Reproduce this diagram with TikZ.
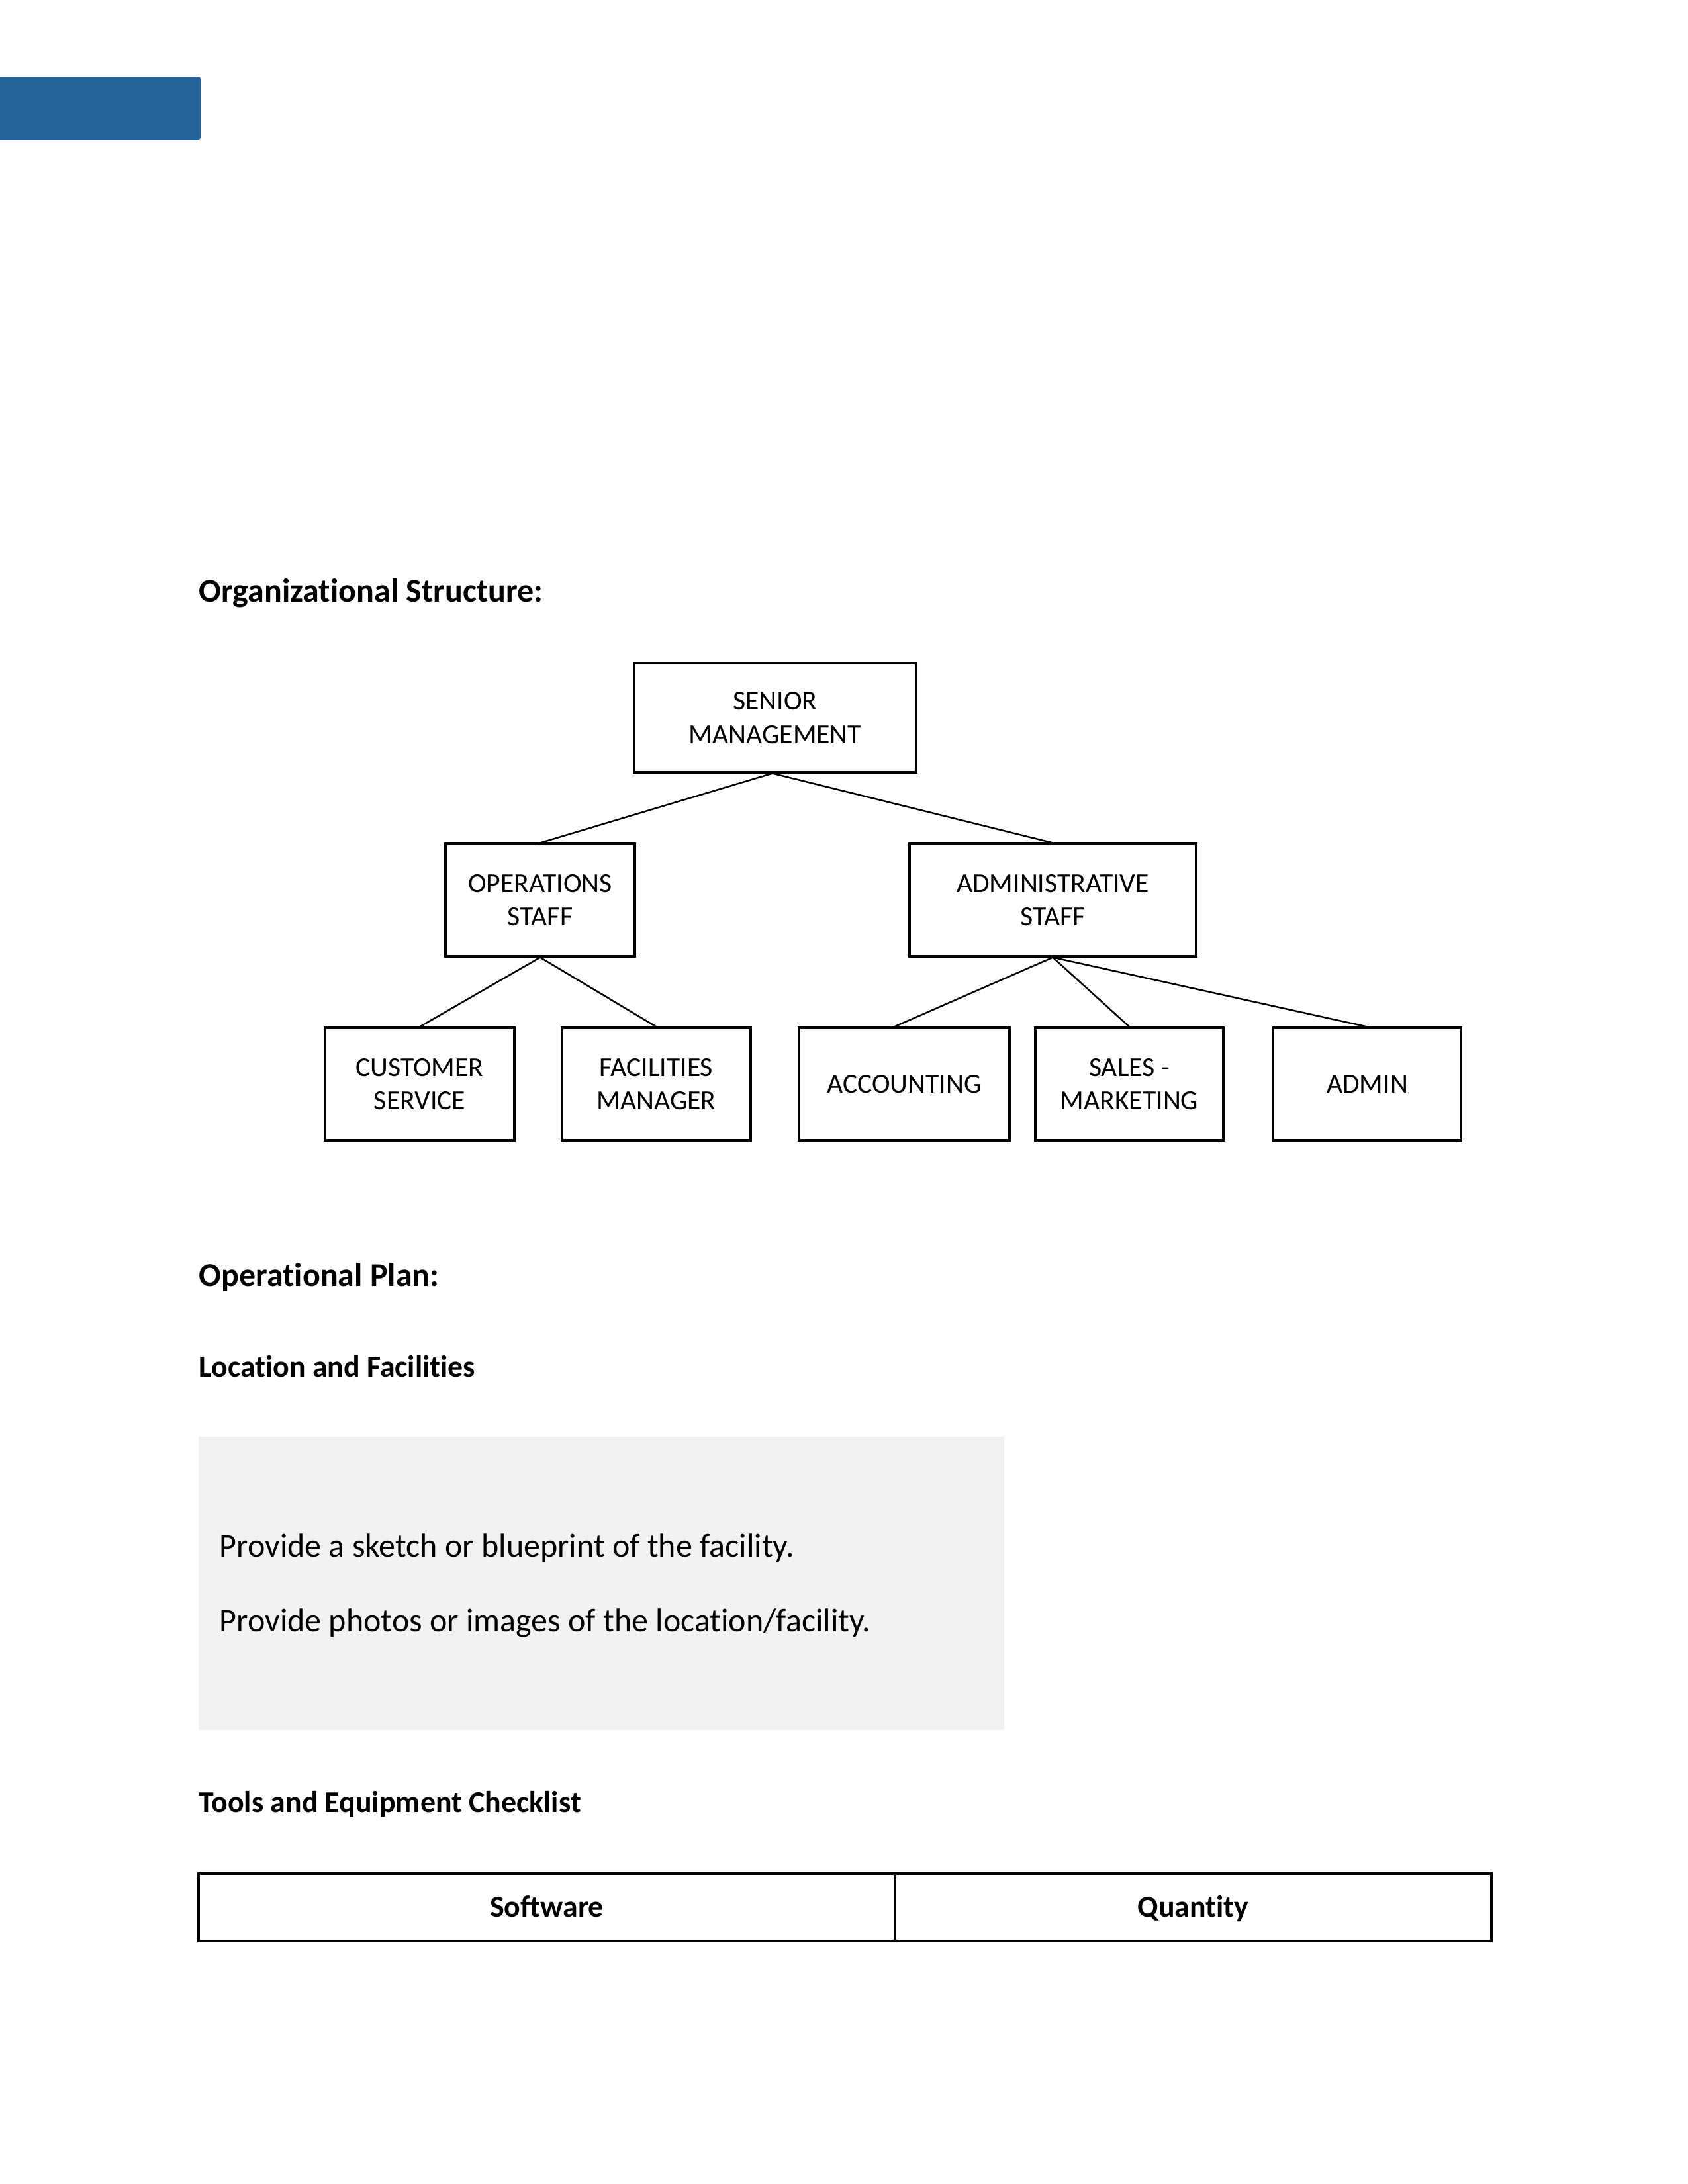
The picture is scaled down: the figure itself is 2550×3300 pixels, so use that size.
\documentclass[tikz,border=0pt]{standalone}
\usepackage{fontspec}
\setmainfont[Ligatures=NoCommon]{Carlito}
\usetikzlibrary{calc}
\definecolor{hdrblue}{RGB}{37,97,153}
\definecolor{panelgrey}{RGB}{242,242,242}
\begin{document}
\begin{tikzpicture}[x=0.2409pt,y=-0.2409pt,
  sz/.style 2 args={minimum width=#1*0.2409pt,minimum height=#2*0.2409pt},
  orgbox/.style={draw=black,line width=0.75pt,inner sep=0pt,align=center,
    font=\fontsize{10bp}{12.2pt}\selectfont},
  link/.style={line width=0.6pt},
  heading/.style={anchor=base west,inner sep=0pt,font=\fontsize{12bp}{14bp}\selectfont\bfseries},
  subheading/.style={anchor=base west,inner sep=0pt,font=\fontsize{11bp}{13bp}\selectfont\bfseries},
  bodytext/.style={anchor=base west,inner sep=0pt,font=\fontsize{12bp}{14bp}\selectfont},
  cell/.style={draw=black,line width=0.85pt,inner sep=0pt,text height=6.95bp,text depth=0pt,
    font=\fontsize{11bp}{13bp}\selectfont\bfseries}]
\useasboundingbox (0,0) rectangle (2550,3300);

% top blue bar
\fill[hdrblue,rounded corners=0.8pt] (-10,116) rectangle (303,211);

% headings
\node[heading] (h1) at (300,909) {Organizational Structure:};
\node[heading] (h2) at (300,1943) {Operational Plan:};
\node[subheading] (h3) at (300,2080) {Location and Facilities};
\node[subheading] (h4) at (300,2738) {Tools and Equipment Checklist};

% org chart
\node[orgbox,sz={426}{165}] (sm) at (1171,1084.5) {SENIOR\\MANAGEMENT};
\node[orgbox,sz={286}{170}] (ops) at (816,1360) {OPERATIONS\\STAFF};
\node[orgbox,sz={433}{170}] (adm) at (1590.5,1360) {ADMINISTRATIVE\\STAFF};
\node[orgbox,sz={286}{170}] (cs) at (634,1638) {CUSTOMER\\SERVICE};
\node[orgbox,sz={285}{170}] (fm) at (991.5,1638) {FACILITIES\\MANAGER};
\node[orgbox,sz={318}{170}] (acc) at (1366,1638) {ACCOUNTING};
\node[orgbox,sz={284}{170}] (sal) at (1706,1638) {SALES -\\MARKETING};
\node[orgbox,sz={284}{170}] (adn) at (2065.5,1638) {ADMIN};

\draw[link] ([xshift=-1pt]sm.south) -- (ops.north);
\draw[link] ([xshift=-1pt]sm.south) -- (adm.north);
\draw[link] (ops.south) -- (cs.north);
\draw[link] (ops.south) -- (fm.north);
\draw[link] (adm.south) -- ([xshift=-3.7pt]acc.north);
\draw[link] (adm.south) -- (sal.north);
\draw[link] (adm.south) -- (adn.north);

% grey panel
\node[fill=panelgrey,inner sep=0pt,sz={1217}{443}] (panel) at (908.5,2392.5) {};
\node[bodytext] (p1) at (331,2352) {Provide a sketch or blueprint of the facility.};
\node[bodytext] (p2) at (331,2465) {Provide photos or images of the location/facility.};

% table header
\node[cell,sz={1052}{102}] (sw) at (826,2882) {Software};
\node[cell,sz={901}{102}] (qt) at (1802.5,2882) {Quantity};
\end{tikzpicture}
\end{document}
